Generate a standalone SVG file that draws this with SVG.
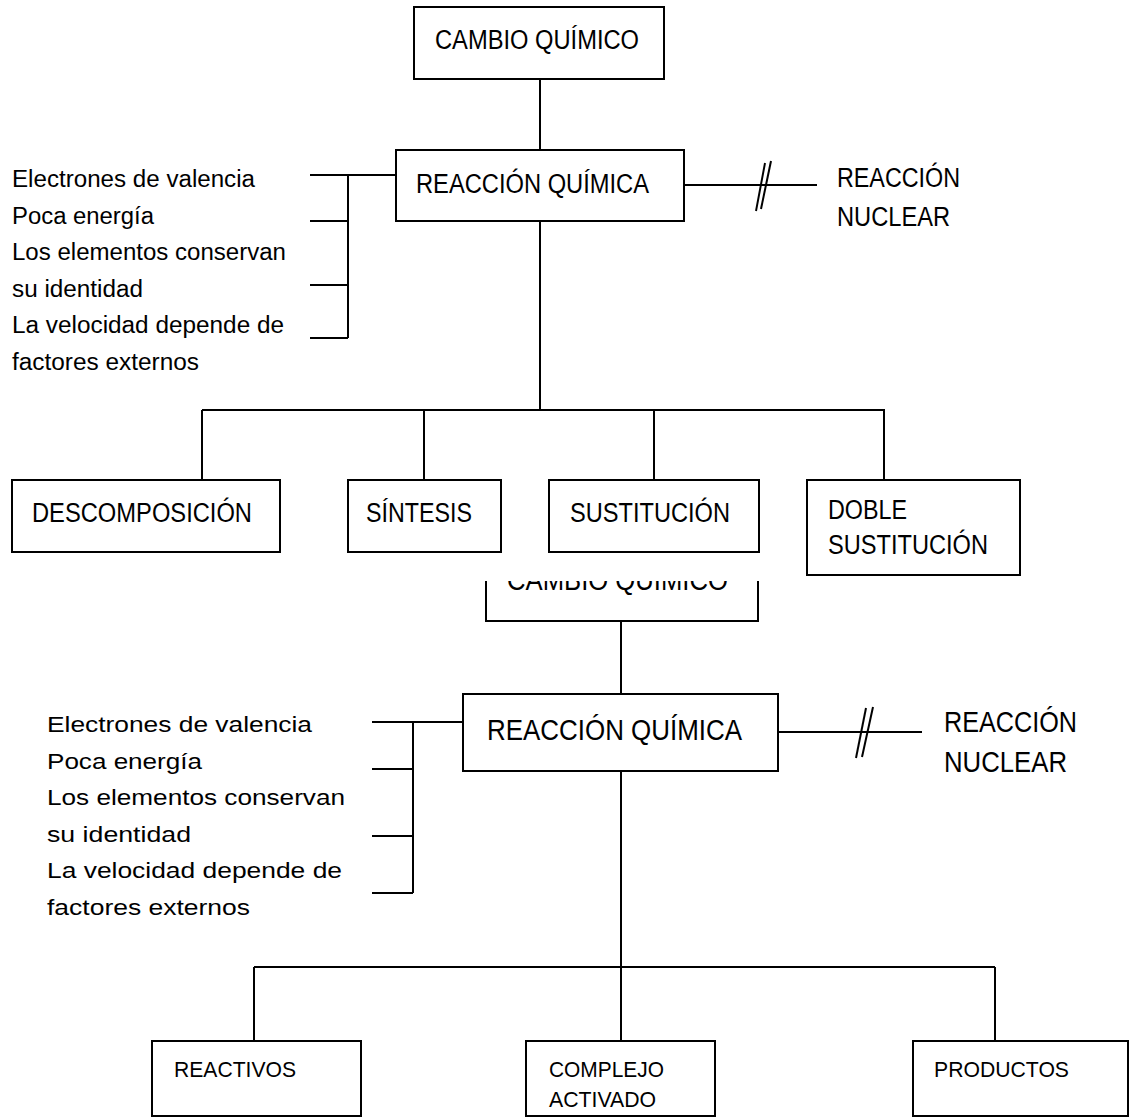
<svg xmlns="http://www.w3.org/2000/svg" width="1130" height="1118" viewBox="0 0 1130 1118">
<style>
  rect.box { fill: #fff; stroke: #000; stroke-width: 2; }
  .conn line, .conn polyline { stroke: #000; stroke-width: 2; fill: none; }
  text { font-family: "Liberation Sans", Arial, sans-serif; fill: #000; }
  .t27 { font-size: 27px; }
  .t29 { font-size: 29px; }
  .t23 { font-size: 23px; }
  .t22 { font-size: 22px; }
  .t21 { font-size: 21px; }
</style>
<defs>
  <clipPath id="clipLow"><rect x="0" y="581" width="1130" height="537"/></clipPath>
</defs>
<rect x="0" y="0" width="1130" height="1118" fill="#fff"/>

<!-- ===== Upper diagram ===== -->
<g id="connectors-upper" class="conn">
  <line x1="540" y1="79" x2="540" y2="150"/>
  <line x1="310" y1="175" x2="396" y2="175"/>
  <line x1="348" y1="175" x2="348" y2="338"/>
  <line x1="310" y1="221" x2="348" y2="221"/>
  <line x1="310" y1="285" x2="348" y2="285"/>
  <line x1="310" y1="338" x2="348" y2="338"/>
  <line x1="684" y1="185" x2="817" y2="185"/>
  <line x1="756" y1="211" x2="765" y2="163"/>
  <line x1="761" y1="209" x2="771" y2="161"/>
  <line x1="540" y1="221" x2="540" y2="410"/>
  <line x1="202" y1="410" x2="885" y2="410"/>
  <line x1="202" y1="410" x2="202" y2="480"/>
  <line x1="424" y1="410" x2="424" y2="480"/>
  <line x1="654" y1="410" x2="654" y2="480"/>
  <line x1="884" y1="410" x2="884" y2="480"/>
</g>

<g id="cambio-quimico-1">
  <rect class="box" x="414" y="7" width="250" height="72"/>
  <text class="t27" x="435" y="49" textLength="204" lengthAdjust="spacingAndGlyphs">CAMBIO QUÍMICO</text>
</g>
<g id="reaccion-quimica-1">
  <rect class="box" x="396" y="150" width="288" height="71"/>
  <text class="t27" x="416" y="193" textLength="233" lengthAdjust="spacingAndGlyphs">REACCIÓN QUÍMICA</text>
</g>
<g id="propiedades-1">
  <text class="t23" x="12" y="187" textLength="243" lengthAdjust="spacingAndGlyphs">Electrones de valencia</text>
  <text class="t23" x="12" y="223.5" textLength="142" lengthAdjust="spacingAndGlyphs">Poca energía</text>
  <text class="t23" x="12" y="260" textLength="274" lengthAdjust="spacingAndGlyphs">Los elementos conservan</text>
  <text class="t23" x="12" y="296.5" textLength="131" lengthAdjust="spacingAndGlyphs">su identidad</text>
  <text class="t23" x="12" y="333" textLength="272" lengthAdjust="spacingAndGlyphs">La velocidad depende de</text>
  <text class="t23" x="12" y="369.5" textLength="187" lengthAdjust="spacingAndGlyphs">factores externos</text>
</g>
<g id="reaccion-nuclear-1">
  <text class="t27" x="837" y="187" textLength="123" lengthAdjust="spacingAndGlyphs">REACCIÓN</text>
  <text class="t27" x="837" y="226" textLength="113" lengthAdjust="spacingAndGlyphs">NUCLEAR</text>
</g>
<g id="descomposicion">
  <rect class="box" x="12" y="480" width="268" height="72"/>
  <text class="t27" x="32" y="522" textLength="220" lengthAdjust="spacingAndGlyphs">DESCOMPOSICIÓN</text>
</g>
<g id="sintesis">
  <rect class="box" x="348" y="480" width="153" height="72"/>
  <text class="t27" x="366" y="522" textLength="106" lengthAdjust="spacingAndGlyphs">SÍNTESIS</text>
</g>
<g id="sustitucion">
  <rect class="box" x="549" y="480" width="210" height="72"/>
  <text class="t27" x="570" y="522" textLength="160" lengthAdjust="spacingAndGlyphs">SUSTITUCIÓN</text>
</g>
<g id="doble-sustitucion">
  <rect class="box" x="807" y="480" width="213" height="95"/>
  <text class="t27" x="828" y="519" textLength="79" lengthAdjust="spacingAndGlyphs">DOBLE</text>
  <text class="t27" x="828" y="554" textLength="160" lengthAdjust="spacingAndGlyphs">SUSTITUCIÓN</text>
</g>

<!-- ===== Lower diagram ===== -->
<g id="connectors-lower" class="conn">
  <line x1="621" y1="621" x2="621" y2="694"/>
  <line x1="372" y1="722" x2="463" y2="722"/>
  <line x1="413" y1="722" x2="413" y2="893"/>
  <line x1="372" y1="769" x2="413" y2="769"/>
  <line x1="372" y1="836" x2="413" y2="836"/>
  <line x1="372" y1="893" x2="413" y2="893"/>
  <line x1="778" y1="732" x2="922" y2="732"/>
  <line x1="856" y1="758" x2="866" y2="708"/>
  <line x1="862" y1="757" x2="873" y2="707"/>
  <line x1="621" y1="771" x2="621" y2="1041"/>
  <line x1="254" y1="967" x2="995" y2="967"/>
  <line x1="254" y1="967" x2="254" y2="1041"/>
  <line x1="995" y1="967" x2="995" y2="1041"/>
</g>

<g id="cambio-quimico-2" clip-path="url(#clipLow)">
  <rect class="box" x="486" y="543" width="272" height="78"/>
  <text class="t29" x="507" y="590" textLength="221" lengthAdjust="spacingAndGlyphs">CAMBIO QUÍMICO</text>
</g>
<g id="reaccion-quimica-2">
  <rect class="box" x="463" y="694" width="315" height="77"/>
  <text class="t29" x="487" y="740" textLength="255" lengthAdjust="spacingAndGlyphs">REACCIÓN QUÍMICA</text>
</g>
<g id="propiedades-2">
  <text class="t22" x="47" y="732" textLength="265" lengthAdjust="spacingAndGlyphs">Electrones de valencia</text>
  <text class="t22" x="47" y="769" textLength="155" lengthAdjust="spacingAndGlyphs">Poca energía</text>
  <text class="t22" x="47" y="805" textLength="298" lengthAdjust="spacingAndGlyphs">Los elementos conservan</text>
  <text class="t22" x="47" y="842" textLength="144" lengthAdjust="spacingAndGlyphs">su identidad</text>
  <text class="t22" x="47" y="878" textLength="295" lengthAdjust="spacingAndGlyphs">La velocidad depende de</text>
  <text class="t22" x="47" y="915" textLength="203" lengthAdjust="spacingAndGlyphs">factores externos</text>
</g>
<g id="reaccion-nuclear-2">
  <text class="t29" x="944" y="732" textLength="133" lengthAdjust="spacingAndGlyphs">REACCIÓN</text>
  <text class="t29" x="944" y="772" textLength="123" lengthAdjust="spacingAndGlyphs">NUCLEAR</text>
</g>
<g id="reactivos">
  <rect class="box" x="152" y="1041" width="209" height="75"/>
  <text class="t22" x="174" y="1077" textLength="122" lengthAdjust="spacingAndGlyphs">REACTIVOS</text>
</g>
<g id="complejo-activado">
  <rect class="box" x="526" y="1041" width="189" height="75"/>
  <text class="t22" x="549" y="1077" textLength="115" lengthAdjust="spacingAndGlyphs">COMPLEJO</text>
  <text class="t22" x="549" y="1107" textLength="107" lengthAdjust="spacingAndGlyphs">ACTIVADO</text>
</g>
<g id="productos">
  <rect class="box" x="913" y="1041" width="215" height="75"/>
  <text class="t22" x="934" y="1077" textLength="135" lengthAdjust="spacingAndGlyphs">PRODUCTOS</text>
</g>
</svg>
